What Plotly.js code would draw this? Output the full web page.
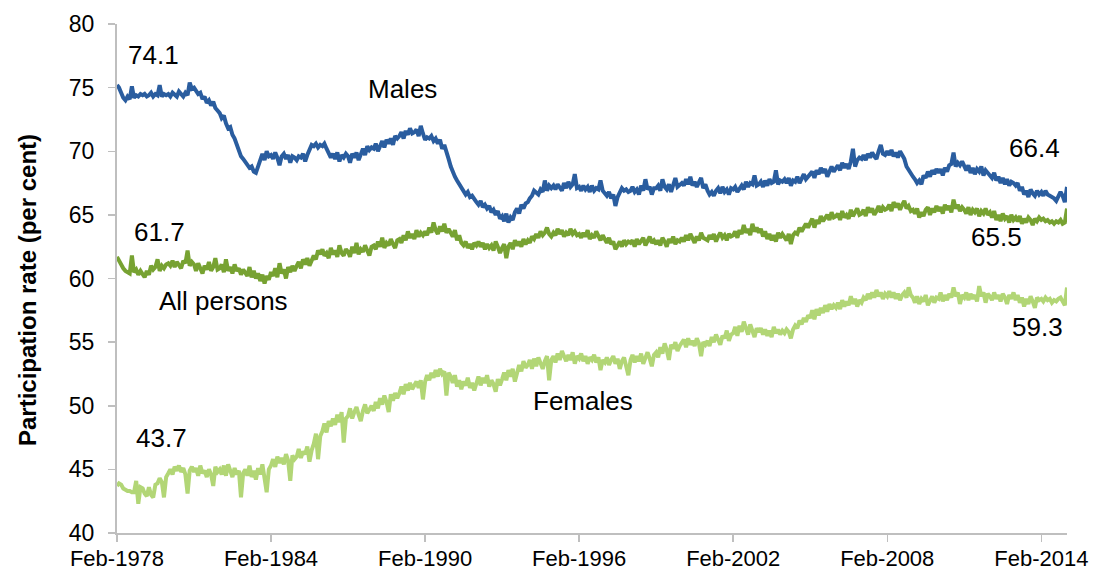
<!DOCTYPE html>
<html>
<head>
<meta charset="utf-8">
<script src="https://cdn.plot.ly/plotly-3.0.1.min.js"></script>
<style>
  html, body { margin: 0; padding: 0; background: #fff; }
  #chart { width: 1101px; height: 573px; }
</style>
</head>
<body>
<div id="chart"></div>
<script>
// Monthly series, Feb-1978 to Feb-2015 (one row per year, Feb..Jan)
const startYear = 1978;
const startMonth = 2;

const males = [
  75.2, 75.0, 74.6, 74.2, 74.0, 74.3, 74.1, 75.1, 74.2, 74.4, 74.3, 74.5,
  74.4, 74.5, 74.3, 74.4, 74.6, 74.3, 74.5, 74.4, 75.2, 74.3, 74.5, 74.4,
  74.5, 74.3, 74.6, 74.4, 74.3, 74.7, 74.5, 74.3, 74.6, 74.4, 75.4, 74.9,
  75.0, 74.7, 74.5, 74.6, 74.1, 74.3, 73.8, 74.0, 73.6, 73.9, 73.4, 73.2,
  73.0, 72.6, 72.8, 72.2, 71.8, 71.9, 71.3, 71.0, 70.6, 70.2, 69.6, 69.4,
  69.2, 69.0, 68.7, 68.8, 68.4, 68.3, 68.9, 69.5, 69.8, 69.3, 70.0, 69.6,
  69.7, 69.4, 69.9, 69.5, 68.9, 69.6, 69.8, 69.4, 69.7, 69.1, 69.6, 69.5,
  69.3, 69.6, 69.5, 69.8, 69.2, 69.7, 70.2, 70.5, 70.4, 70.6, 70.3, 70.5,
  70.4, 70.6, 70.2, 69.9, 69.5, 69.8, 69.4, 69.9, 69.2, 69.7, 69.5, 69.8,
  69.6, 69.1, 69.8, 69.5, 69.9, 69.3, 69.8, 70.2, 69.7, 70.4, 70.1, 70.3,
  70.2, 70.6, 70.0, 70.4, 70.8, 70.3, 70.9, 70.6, 71.0, 70.5, 71.2, 71.0,
  71.2, 71.5, 71.0, 71.6, 71.3, 71.8, 71.4, 71.5, 71.7, 71.2, 72.0, 71.4,
  70.9, 71.1, 71.0, 71.2, 70.8, 71.0, 70.6, 70.9, 70.2, 70.5, 69.8, 69.4,
  68.8, 68.3, 68.0, 67.7, 67.4, 67.2, 66.9, 66.6, 66.8, 66.4, 66.5, 66.2,
  66.0, 65.8, 66.1, 65.6, 65.8, 65.5, 65.7, 65.2, 65.4, 65.0, 65.3, 64.7,
  64.9, 64.5, 65.1, 64.4, 64.8, 64.6, 65.2, 65.5, 65.1, 65.8, 65.5, 65.9,
  66.0, 66.3, 66.5, 66.9, 66.7, 66.6, 67.0, 66.8, 67.7, 66.9, 67.3, 67.1,
  67.3, 67.0, 67.4, 67.2, 66.9, 67.5, 67.1, 67.6, 67.2, 67.4, 68.2, 67.1,
  67.2, 66.9, 67.3, 67.0, 67.2, 66.8, 67.3, 66.9, 67.1, 67.0, 67.7, 66.9,
  66.7, 66.5, 66.8, 66.3, 66.6, 65.7, 66.4, 66.8, 67.1, 66.9, 67.0, 66.8,
  66.9, 67.2, 66.8, 67.0, 66.6, 67.3, 66.9, 67.8, 67.0, 67.2, 66.6, 67.1,
  67.1, 67.3, 66.9, 67.8, 67.2, 67.0, 67.4, 66.8, 67.3, 67.9, 67.2, 67.4,
  67.5, 67.3, 67.8, 67.4, 68.0, 67.3, 67.6, 67.2, 67.5, 67.9, 67.1, 67.4,
  66.9, 66.6, 66.8, 66.5, 66.9, 67.1, 66.7, 67.2, 66.8, 67.0, 66.6, 67.1,
  67.0, 67.2, 66.8, 67.1, 67.3, 67.0, 67.6, 67.2, 67.5, 67.4, 68.1, 67.3,
  67.4, 67.6, 67.2, 67.7, 67.3, 67.8, 67.5, 67.6, 68.5, 67.4, 67.7, 67.6,
  67.8, 67.5, 67.9, 67.3, 67.7, 67.6, 68.0, 67.5, 67.9, 68.2, 67.8, 68.0,
  68.1, 68.4, 67.9, 68.5, 68.2, 68.7, 68.3, 68.6, 68.0, 68.5, 68.8, 68.4,
  68.7, 68.9, 68.5, 69.1, 68.7, 69.0, 68.6, 69.2, 70.2, 68.8, 69.3, 69.5,
  69.4, 69.7, 69.3, 69.8, 69.5, 69.9, 69.6, 69.4, 70.0, 70.5, 69.8, 69.7,
  70.0, 69.7, 70.1, 69.6, 69.9, 69.5, 70.0, 69.7, 69.4, 68.8, 68.5, 68.3,
  68.0, 67.8, 67.5, 67.7, 67.4, 68.1, 67.9, 68.4, 68.0, 68.5, 68.2, 68.6,
  68.3, 68.6, 68.1, 68.7, 68.4, 68.9, 69.0, 69.9, 68.8, 69.1, 68.9, 69.2,
  68.8, 68.5, 68.9, 68.3, 68.7, 68.2, 68.6, 68.4, 68.8, 68.1, 68.5, 68.3,
  68.2, 67.9, 68.3, 67.7, 68.0, 67.5, 67.9, 67.4, 67.8, 67.3, 67.6, 67.5,
  67.3, 67.5, 66.9, 67.2, 66.6, 66.9, 66.4, 67.0, 66.7, 66.5, 66.9, 66.6,
  66.8, 66.5, 66.9, 66.6, 66.5, 66.4, 66.3, 66.1, 66.4, 66.8, 66.5, 66.0,
  67.2
];

const allPersons = [
  61.7, 61.4, 61.0, 60.8, 60.6, 60.5, 60.4, 61.8, 60.5, 60.7, 60.3, 60.6,
  60.4, 60.1, 60.6, 60.3, 61.0, 60.7, 60.9, 61.5, 60.6, 61.0, 60.8, 61.1,
  61.2, 61.0, 61.4, 60.9, 61.3, 61.1, 60.8, 61.4, 61.2, 62.2, 61.0, 61.3,
  61.1, 60.6, 61.2, 60.8, 60.4, 61.0, 60.7, 61.3, 60.6, 60.9, 61.6, 60.7,
  60.8, 61.1, 60.5, 61.5, 60.6, 60.9, 60.4, 61.1, 60.6, 60.8, 60.3, 60.7,
  60.5, 60.2, 60.9, 60.1, 60.6, 60.0, 60.4, 59.8, 60.3, 59.6, 60.2, 59.9,
  60.5, 60.2, 60.8, 60.1, 61.2, 60.4, 60.7, 60.0, 60.9, 60.5, 61.0, 60.6,
  61.0, 61.3, 60.8, 61.5, 61.1, 61.6, 61.0, 61.4, 61.8, 61.5, 62.2, 61.9,
  62.3, 61.8, 62.0, 61.6, 62.4, 61.9, 62.2, 61.7, 62.6, 62.0, 61.8, 62.3,
  62.1, 61.7, 62.5, 62.0, 62.8, 61.9, 62.3, 62.1, 62.6, 62.2, 61.8, 62.5,
  62.6, 62.3, 62.9, 62.5, 63.2, 62.4, 62.8, 62.6, 63.1, 62.7, 62.4, 63.0,
  63.1, 62.8, 63.4, 63.0, 63.7, 63.2, 63.5, 63.1, 63.8, 63.3, 63.6, 63.4,
  63.7, 63.4, 64.0, 63.6, 64.4, 63.8, 63.5, 64.1, 63.7, 64.3, 63.6, 63.9,
  63.6, 63.3, 63.8, 63.0, 63.4, 62.8, 62.6, 62.9, 62.4, 62.7, 62.3, 62.8,
  62.6, 62.9, 62.5, 62.8, 62.3, 62.7, 62.4, 62.6, 62.2, 62.9, 62.5, 62.0,
  62.4, 62.7, 61.6, 62.5, 62.8, 62.3, 63.0, 62.6, 62.9, 62.5, 63.1, 62.7,
  63.0, 62.8, 63.3, 63.1, 63.5, 63.2, 63.7, 63.4, 63.6, 64.0, 63.5, 63.3,
  63.6, 63.4, 63.9, 63.5, 63.8, 63.3, 63.6, 63.4, 63.9, 63.5, 63.7, 63.4,
  63.5, 63.2, 63.6, 63.3, 63.8, 63.1, 63.4, 63.2, 63.7, 63.3, 63.0, 63.4,
  63.1, 62.8, 63.2, 62.7, 62.9, 62.3, 62.6, 62.9, 62.5, 63.0, 62.7, 62.9,
  62.8, 63.0, 62.5, 63.1, 62.7, 62.9, 63.2, 62.6, 62.9, 63.3, 62.8, 63.0,
  62.7, 63.0, 62.6, 63.2, 62.9, 62.5, 63.1, 62.8, 63.3, 62.7, 63.0, 62.9,
  63.2, 62.9, 63.4, 63.0, 63.5, 63.1, 62.8, 63.3, 63.0, 63.6, 63.2, 63.1,
  63.0, 63.4, 63.1, 63.5, 62.9, 63.3, 63.6, 63.2, 63.4, 63.0, 63.5, 63.3,
  63.4, 63.7, 63.2, 63.8, 63.5, 64.2, 63.6, 63.9, 63.4, 64.3, 63.7, 64.0,
  63.6, 63.9, 63.3, 63.7, 63.1, 63.5, 63.0, 63.4, 62.9, 63.6, 63.2, 63.5,
  63.2, 63.0, 63.5, 62.7, 63.4, 63.6, 63.5, 64.0, 63.7, 64.1, 64.3, 64.0,
  64.3, 64.7, 64.0, 64.6, 64.3, 64.9, 64.5, 64.7, 65.0, 64.6, 65.2, 64.8,
  64.9, 65.1, 64.6, 65.3, 64.8, 65.0, 64.7, 65.4, 64.9, 65.2, 65.5, 65.0,
  65.1, 65.4, 64.9, 65.6, 65.2, 65.5, 65.0, 65.3, 65.7, 65.2, 65.6, 65.4,
  65.5, 65.8, 65.3, 66.0, 65.6, 65.9, 65.4, 65.8, 66.1, 65.5, 65.7, 65.3,
  65.4, 65.1, 65.5, 64.8, 65.2, 64.9, 65.4, 65.6, 65.0, 65.5, 65.2, 65.7,
  65.3, 65.6, 65.1, 65.8, 65.4, 65.7, 65.2, 66.2, 65.5, 65.8, 65.3, 65.6,
  65.4, 65.1, 65.6, 65.0, 65.4, 65.2, 65.5, 64.9, 65.3, 65.1, 65.5, 65.0,
  65.2, 64.8, 65.3, 64.6, 65.0, 64.5, 65.1, 64.7, 64.9, 64.4, 65.0, 64.6,
  64.8, 64.5, 64.9, 64.3, 64.7, 64.4, 64.8, 64.6, 64.2, 64.7, 64.5, 64.8,
  64.6, 64.7, 64.5, 64.6, 64.4, 64.5, 64.3, 64.5, 64.4, 64.6, 64.3, 64.4,
  65.5
];

const females = [
  43.7, 43.9, 43.8, 43.5, 43.4, 43.3, 43.3, 43.2, 43.2, 44.1, 42.3, 43.6,
  43.5, 43.1, 42.9, 43.6, 43.0, 42.8, 43.8, 43.9, 44.3, 44.0, 42.8, 44.4,
  44.7, 45.0, 44.6, 45.2, 44.9, 45.3, 44.8, 45.1, 44.6, 43.1, 44.9, 45.2,
  44.8, 45.1, 44.5, 45.3, 44.7, 44.9, 44.4, 45.0, 44.6, 43.7, 45.2, 44.8,
  45.0, 44.6, 45.3, 44.5, 45.4, 44.8, 44.4, 45.1, 44.6, 44.9, 42.8, 44.7,
  45.0, 44.5, 45.3, 44.4, 44.9, 44.2, 45.1, 44.6, 45.4, 44.3, 43.2, 45.0,
  45.3, 45.8, 45.2, 46.0, 45.5, 45.9, 45.4, 46.2, 45.7, 44.1, 46.1, 45.8,
  46.0, 46.6, 45.9, 46.4, 46.2, 46.8, 45.6, 46.5, 47.0, 47.8, 45.8, 47.6,
  48.0, 48.6, 47.9, 48.8, 48.4, 49.0, 48.5, 49.3, 48.7, 49.5, 47.1, 49.0,
  49.2, 49.8, 49.0, 49.5, 49.9, 49.3, 48.8, 49.6, 50.1, 49.4, 49.7, 50.0,
  49.6, 50.3, 49.8, 50.6, 50.1, 50.8, 50.3, 49.5, 50.9, 50.4, 51.0, 50.6,
  51.0, 51.5, 50.9, 51.7, 51.2, 51.8, 51.3, 51.6, 51.9, 51.4, 52.0, 50.5,
  51.9, 52.4, 52.0, 52.6, 52.2, 52.8, 52.3, 52.9, 52.5, 52.7, 50.8, 52.6,
  52.3, 51.8, 52.4, 51.5, 52.0, 51.3, 51.9, 51.6, 52.2, 51.4, 51.8, 51.2,
  51.9, 52.3, 51.6, 52.2, 51.8, 52.4, 51.5, 52.0, 51.7, 51.1, 52.1, 51.6,
  52.1, 52.6, 52.0, 52.8, 52.3, 52.9, 51.9, 52.6, 53.2, 52.7, 53.5, 53.0,
  53.2, 53.6, 52.9, 53.7, 53.1, 53.8, 53.4, 52.9, 53.5, 53.9, 52.0, 53.6,
  53.9, 53.4, 54.1, 53.6, 54.3, 53.8, 53.5, 54.0, 53.6, 54.2, 53.3, 53.9,
  53.7, 54.1, 53.5, 53.9, 53.3, 53.8, 53.6, 54.0, 53.4, 53.8, 52.8, 53.6,
  53.4, 53.8, 53.2, 53.6, 53.9, 53.3, 53.7, 52.9, 53.5, 53.8, 53.1, 52.4,
  53.6, 54.0, 53.4, 53.9, 53.5, 54.1, 53.3, 53.8, 54.2, 53.7, 53.1, 54.0,
  54.2, 53.8, 54.6, 54.1, 54.9, 54.4, 53.6, 54.8, 54.5, 55.0, 54.3, 54.7,
  54.9, 55.2, 54.6, 55.3, 54.8, 55.1, 54.7, 55.3, 54.9, 53.9, 55.0, 54.8,
  55.1, 54.7, 55.4, 55.0, 55.6, 55.2, 54.8, 55.5, 55.3, 55.9, 55.1, 55.6,
  55.7, 56.2, 55.5, 56.3, 55.8, 56.6, 56.0, 55.6, 56.4, 55.9, 55.4, 56.1,
  55.8, 56.1, 55.6, 56.0, 55.5, 55.9, 55.4, 56.2, 55.7, 56.0, 55.6, 55.9,
  55.7, 56.0, 55.8, 55.3, 56.0, 56.3, 56.1, 56.7, 56.4, 56.9, 56.6, 57.1,
  56.9, 57.5, 56.8, 57.6, 57.1, 57.7, 57.3, 57.9, 57.4, 58.0, 57.6, 57.9,
  57.7, 58.1, 57.6, 58.3, 57.8, 58.2, 57.9, 58.6, 58.0, 58.4, 57.8, 58.3,
  58.1, 58.5, 58.3, 58.8, 58.4, 58.9, 58.5, 59.1, 58.6, 58.9, 58.4, 58.8,
  58.6, 59.0, 58.5, 58.9, 58.4, 58.8, 58.3, 58.7, 58.9, 58.5, 59.3, 58.7,
  58.5, 58.1, 58.6, 58.0, 58.4, 58.2, 58.7, 57.9, 58.3, 58.6, 58.1, 58.5,
  58.4, 58.9, 58.2, 58.7, 58.3, 58.8, 58.5, 59.3, 58.6, 58.9, 58.0, 58.7,
  58.5, 58.9, 58.3, 58.8, 58.4, 58.7, 58.2, 59.4, 58.6, 58.9, 58.1, 58.8,
  58.6, 58.3, 58.9, 58.4, 58.7, 58.2, 58.8, 58.5, 58.0, 58.7, 58.4, 58.9,
  58.3, 58.7, 58.1, 58.5, 57.8, 58.4, 58.0, 58.6, 58.2, 57.7, 58.5, 58.3,
  58.4, 58.2, 58.5, 58.3, 58.4, 58.1, 58.3, 58.2, 58.4, 58.5, 58.2, 57.9,
  59.3
];

const tickYears = [1978, 1984, 1990, 1996, 2002, 2008, 2014];
const tickLabels = ["Feb-1978", "Feb-1984", "Feb-1990", "Feb-1996", "Feb-2002", "Feb-2008", "Feb-2014"];

const seriesNames = ["Males", "All persons", "Females"];
const seriesColors = ["#2A5D9F", "#77A232", "#B2D676"];

const valueLabels = ["74.1", "66.4", "61.7", "65.5", "43.7", "59.3"];
const yTitle = "Participation rate (per cent)";

// build monthly date strings
function pad(n) { return (n < 10 ? "0" : "") + n; }
const dates = [];
for (let i = 0; i < males.length; i++) {
  const m0 = (startMonth - 1) + i;
  const y = startYear + Math.floor(m0 / 12);
  const m = (m0 % 12) + 1;
  dates.push(y + "-" + pad(m) + "-01");
}
const tickVals = tickYears.map(y => y + "-02-01");

const FONT = "Liberation Sans, Arial, sans-serif";

const data = [males, allPersons, females].map((vals, k) => ({
  type: "scatter",
  mode: "lines",
  name: seriesNames[k],
  x: dates,
  y: vals,
  line: { color: seriesColors[k], width: 4 },
  hoverinfo: "x+y+name"
}));

function ann(text, x, y) {
  return {
    text: text, xref: "paper", yref: "paper", x: x, y: y,
    xanchor: "center", yanchor: "middle", showarrow: false,
    font: { family: FONT, size: 26, color: "#000" }
  };
}

const annotations = [
  ann(valueLabels[0], 0.0379, 0.939),
  ann(seriesNames[0], 0.300, 0.872),
  ann(valueLabels[1], 0.966, 0.756),
  ann(valueLabels[2], 0.045, 0.591),
  ann(seriesNames[1], 0.1126, 0.456),
  ann(valueLabels[3], 0.926, 0.5815),
  ann(valueLabels[5], 0.969, 0.405),
  ann(valueLabels[4], 0.047, 0.187),
  ann(seriesNames[2], 0.4905, 0.259)
];
annotations.push({
  text: "<b>" + yTitle + "</b>", xref: "paper", yref: "paper",
  x: -0.0947, y: 0.4774, xanchor: "center", yanchor: "middle",
  textangle: -90, showarrow: false,
  font: { family: FONT, size: 24, color: "#000" }
});

const layout = {
  width: 1101,
  height: 573,
  margin: { l: 117, r: 34, t: 24, b: 40 },
  paper_bgcolor: "#fff",
  plot_bgcolor: "#fff",
  showlegend: false,
  font: { family: FONT, color: "#000" },
  xaxis: {
    type: "date",
    range: [dates[0], dates[dates.length - 1]],
    tickvals: tickVals,
    ticktext: tickLabels,
    ticks: "outside",
    ticklen: 7,
    tickwidth: 1.5,
    tickcolor: "#BFBFBF",
    showline: true,
    linecolor: "#BFBFBF",
    linewidth: 2,
    showgrid: false,
    zeroline: false,
    tickfont: { family: FONT, size: 22, color: "#000" },
    ticklabelstandoff: -2
  },
  yaxis: {
    range: [40, 80],
    dtick: 5,
    tick0: 40,
    ticks: "outside",
    ticklen: 7,
    tickwidth: 1.5,
    tickcolor: "#BFBFBF",
    showline: true,
    linecolor: "#BFBFBF",
    linewidth: 2,
    showgrid: false,
    zeroline: false,
    tickfont: { family: FONT, size: 23, color: "#000" },
    ticklabelstandoff: 9
  },
  annotations: annotations
};

Plotly.newPlot("chart", data, layout, { displayModeBar: false, staticPlot: true });
</script>
</body>
</html>
